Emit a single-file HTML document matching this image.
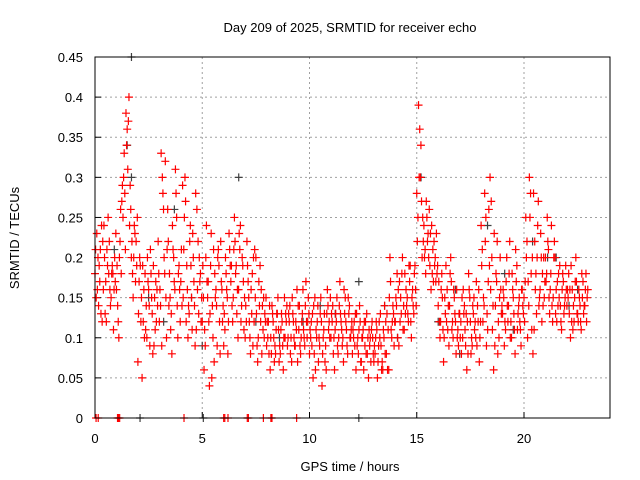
<!DOCTYPE html>
<html><head><meta charset="utf-8"><style>
body{margin:0;background:#fff;}
svg{display:block;font-family:"Liberation Sans",Arial,sans-serif;}
</style></head><body>
<svg id="chart" width="640" height="480" viewBox="0 0 640 480">
<text x="350" y="32" font-size="13" text-anchor="middle" fill="#000">Day 209 of 2025, SRMTID for receiver echo</text>
<text x="350" y="471" font-size="13" text-anchor="middle">GPS time / hours</text>
<text transform="translate(19,238) rotate(-90)" font-size="13" text-anchor="middle">SRMTID / TECUs</text>
<g id="grid"></g><g id="ticks"></g><g id="marks"></g>
<rect x="95" y="57" width="515" height="361" fill="none" stroke="#000" stroke-width="1"/>
</svg>
<script>
const xTicks=[0,5,10,15,20];
const yTicks=[0,0.05,0.1,0.15,0.2,0.25,0.3,0.35,0.4,0.45];
const yTickLabels=["0","0.05","0.1","0.15","0.2","0.25","0.3","0.35","0.4","0.45"];
const redHourly=[
[.18,.23,.14,.21,.12,.24,.17,.19,.22,.15,.18,.2],
[.16,.12,.22,.27,.3,.21,.36,.4,.26,.18,.24,.22],
[.07,.2,.15,.12,.18,.1,.16,.21,.13,.09,.17,.14],
[.12,.33,.28,.18,.1,.22,.15,.08,.2,.31,.14,.19],
[.17,.29,.25,.12,.1,.22,.15,.2,.09,.26,.13,.18],
[.12,.06,.2,.15,.04,.23,.1,.18,.14,.21,.08,.16],
[.09,.2,.15,.23,.17,.12,.25,.19,.1,.21,.14,.17],
[.1,.22,.15,.08,.18,.12,.2,.07,.14,.16,.11,.13],
[.09,.12,.06,.14,.1,.08,.13,.07,.11,.09,.15,.12],
[.1,.14,.07,.12,.09,.16,.11,.08,.13,.1,.17,.12],
[.08,.12,.05,.15,.1,.07,.13,.04,.11,.09,.16,.12],
[.1,.14,.06,.12,.08,.17,.11,.07,.15,.09,.13,.1],
[.08,.12,.06,.1,.14,.07,.11,.09,.13,.05,.1,.12],
[.07,.1,.05,.12,.09,.06,.14,.08,.11,.2,.1,.13],
[.12,.18,.09,.15,.2,.11,.16,.13,.17,.1,.14,.19],
[.28,.39,.3,.2,.24,.18,.22,.26,.16,.21,.19,.23],
[.14,.1,.18,.07,.13,.16,.09,.2,.12,.15,.08,.11],
[.13,.08,.16,.11,.06,.18,.12,.09,.15,.1,.14,.07],
[.24,.12,.28,.09,.17,.3,.2,.06,.14,.22,.1,.16],
[.13,.09,.17,.12,.22,.1,.15,.08,.19,.14,.11,.16],
[.15,.25,.1,.3,.18,.08,.22,.13,.27,.16,.12,.2],
[.2,.25,.15,.18,.12,.22,.16,.14,.19,.11,.17,.15],
[.14,.18,.1,.16,.12,.2,.13,.15,.11,.17,.14,.12]];
const redHourlyB=[
[.21,.16,.19,.13,.22,.2,.12,.25,.16,.18,.11,.17],
[.19,.1,.26,.29,.33,.38,.31,.24,.2,.15,.23,.19],
[.13,.19,.05,.16,.11,.2,.14,.18,.08,.15,.12,.22],
[.16,.09,.26,.32,.21,.14,.11,.24,.17,.28,.1,.16],
[.21,.15,.3,.19,.14,.24,.11,.17,.28,.16,.2,.12],
[.19,.11,.24,.17,.13,.05,.21,.15,.09,.19,.22,.12],
[.13,.18,.08,.21,.19,.15,.22,.13,.16,.24,.2,.11],
[.14,.19,.12,.16,.09,.21,.13,.1,.19,.08,.15,.12],
[.12,.08,.1,.13,.07,.11,.15,.09,.13,.06,.1,.14],
[.13,.08,.15,.1,.12,.07,.14,.1,.16,.09,.12,.15],
[.11,.09,.14,.06,.12,.1,.15,.08,.13,.06,.14,.1],
[.13,.08,.11,.15,.1,.13,.09,.16,.12,.08,.14,.11],
[.11,.09,.13,.08,.12,.1,.06,.12,.08,.11,.07,.1],
[.09,.12,.07,.1,.06,.11,.08,.13,.06,.17,.12,.09],
[.15,.1,.17,.13,.11,.18,.14,.12,.19,.15,.13,.16],
[.22,.3,.34,.25,.2,.27,.23,.19,.24,.17,.2,.18],
[.17,.12,.15,.1,.19,.11,.14,.17,.1,.13,.16,.09],
[.1,.15,.13,.09,.12,.16,.08,.14,.11,.17,.12,.1],
[.19,.15,.22,.13,.26,.16,.11,.23,.18,.08,.15,.13],
[.16,.12,.2,.14,.1,.18,.13,.21,.11,.15,.09,.14],
[.12,.2,.17,.25,.11,.28,.16,.2,.14,.23,.18,.15],
[.17,.22,.13,.24,.15,.2,.12,.18,.14,.16,.13,.19],
[.16,.13,.19,.11,.15,.17,.12,.14,.18,.13,.16,.15]];
const redHourlyC=[
[.15,.2,.17,.24,.16,.13,.21,.18,.14,.19,.16,.23],
[.14,.2,.18,.25,.28,.34,.37,.29,.22,.2,.17,.25],
[.17,.12,.19,.1,.14,.17,.09,.15,.19,.11,.16,.18],
[.14,.3,.2,.15,.26,.18,.13,.21,.16,.25,.18,.12],
[.14,.21,.27,.16,.13,.19,.23,.14,.11,.22,.17,.15],
[.15,.09,.17,.12,.19,.14,.07,.16,.2,.12,.17,.14],
[.11,.16,.12,.19,.14,.21,.18,.16,.23,.12,.19,.15],
[.12,.17,.1,.13,.2,.15,.09,.17,.12,.14,.1,.15],
[.1,.14,.08,.12,.09,.13,.11,.08,.12,.1,.13,.09],
[.12,.1,.13,.09,.11,.14,.09,.12,.11,.14,.1,.13],
[.1,.13,.08,.11,.14,.09,.12,.1,.07,.13,.11,.15],
[.12,.1,.13,.09,.14,.12,.1,.13,.11,.15,.1,.12],
[.1,.13,.09,.11,.07,.1,.12,.08,.1,.09,.11,.08],
[.08,.11,.09,.13,.07,.1,.12,.06,.15,.11,.14,.12],
[.14,.16,.12,.18,.14,.13,.15,.19,.12,.16,.18,.14],
[.25,.36,.27,.22,.21,.25,.2,.23,.18,.22,.17,.19],
[.12,.16,.11,.15,.12,.14,.18,.11,.16,.12,.1,.13],
[.12,.1,.14,.13,.08,.15,.1,.13,.12,.09,.16,.12],
[.21,.14,.25,.11,.19,.27,.14,.09,.17,.12,.2,.14],
[.15,.11,.14,.18,.12,.16,.11,.17,.13,.12,.16,.13],
[.17,.22,.14,.28,.2,.11,.18,.24,.15,.2,.14,.17],
[.18,.21,.16,.14,.2,.13,.17,.15,.12,.18,.14,.16],
[.15,.16,.12,.14,.17,.13,.16,.12,.15,.14,.18,.16]];
const grayTimes=[1.5,1.7,3.7,5,6.7,9.7,12.3,13.5,15.2,16,17,18.3,20.4,21.5,0.9,4.5,7.5,10.5,19.5,22.5,1.7,2.5,3.2,8.6,11.2,14.1,16.8,19.1,21.1,22.1];
const grayValues=[.34,.3,.26,.09,.3,.12,.17,.14,.3,.12,.08,.24,.22,.2,.21,.15,.12,.14,.11,.16,.45,.15,.12,.1,.13,.1,.16,.18,.2,.14];
const redZeroTimes=[0.05,0.15,1.05,1.1,1.15,4.15,6.0,6.05,6.2,7.1,7.15,7.85,8.2,8.25,9.4];
const grayZeroTimes=[2.1,5.05,12.3];
const NS="http://www.w3.org/2000/svg";
const X=t=>95+t*21.45, Y=v=>418-v*802.2;
const grid=document.getElementById('grid'),ticks=document.getElementById('ticks'),marks=document.getElementById('marks');
function mk(tag,attrs,parent){const e=document.createElementNS(NS,tag);for(const k in attrs)e.setAttribute(k,attrs[k]);parent.appendChild(e);return e;}
xTicks.forEach(t=>{
  const g=mk('line',{x1:X(t),x2:X(t),y1:57,y2:418,stroke:'#a0a0a0','stroke-dasharray':'2,3'},grid);
  
  
  const l=mk('text',{x:X(t),y:443,'font-size':13,'text-anchor':'middle'},ticks);l.textContent=t;
  
  
  mk('line',{x1:X(t),x2:X(t),y1:418,y2:412,stroke:'#000'},ticks);
});
yTicks.forEach((v,i)=>{
  const g=mk('line',{x1:95,x2:610,y1:Y(v),y2:Y(v),stroke:'#a0a0a0','stroke-dasharray':'2,3'},grid);
  
  
  const l=mk('text',{x:83,y:Y(v)+5,'font-size':13,'text-anchor':'end'},ticks);l.textContent=yTickLabels[i];
  
  
  mk('line',{x1:95,x2:101,y1:Y(v),y2:Y(v),stroke:'#000'},ticks);
});
function plus(t,v,c,name){
  const x=X(t),y=Y(v);
  const p=mk('path',{d:`M${x-4} ${y}H${x+4}M${x} ${y-4}V${y+4}`,stroke:c,'stroke-width':1.2,fill:'none'},marks);
  
  
}
grayTimes.forEach((t,i)=>plus(t,grayValues[i],'#404040','gray-point'));
redHourly.forEach((arr,h)=>arr.forEach((v,i)=>plus(h+i/12,v,'#ff0000','red-point')));
redHourlyB.forEach((arr,h)=>arr.forEach((v,i)=>plus(h+i/12+1/36,v,'#ff0000','red-point')));
redHourlyC.forEach((arr,h)=>arr.forEach((v,i)=>plus(h+i/12+2/36,v,'#ff0000','red-point')));
redZeroTimes.forEach(t=>plus(t,0,'#ff0000','red-zero-point'));
grayZeroTimes.forEach(t=>plus(t,0,'#404040','gray-zero-point'));
</script>
</body></html>
